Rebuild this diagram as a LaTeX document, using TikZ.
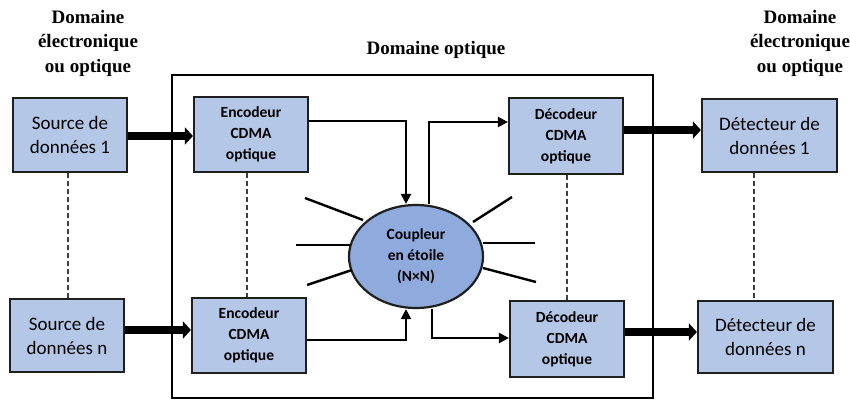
\documentclass[tikz,border=0pt]{standalone}
\usepackage{fontspec}
\setmainfont{Carlito}
\newfontfamily\titlefont{Liberation Serif}
\usetikzlibrary{arrows.meta,shapes.geometric,calc}
\definecolor{boxblue}{HTML}{B4C7E7}
\definecolor{ellblue}{HTML}{8FAADC}
\definecolor{edge}{HTML}{1F1F1F}
\begin{document}
\begin{tikzpicture}[x=1pt,y=-1pt,
  bigbox/.style={draw=edge,line width=2.2pt,fill=boxblue,rectangle,align=center,inner sep=0pt,
     font=\fontsize{19}{24}\selectfont},
  smallbox/.style={draw=edge,line width=2.2pt,fill=boxblue,rectangle,align=center,inner sep=0pt,
     minimum width=114pt,minimum height=75pt,font=\bfseries\fontsize{15.5}{21}\selectfont},
  titletext/.style={align=center,font=\titlefont\bfseries\fontsize{19}{24.5}\selectfont},
  thick arr/.style={line width=8pt,-{Triangle[length=8pt,width=17pt]}},
  thin arr/.style={line width=2.2pt,-{Triangle[length=10pt,width=10pt]}},
  spoke/.style={line width=2.4pt},
  dash link/.style={dash pattern=on 5pt off 3pt,line width=1.1pt,draw=black!75}]
\useasboundingbox (0,0) rectangle (850,403);
% titles
\node[titletext] (tl) at (88,43) {Domaine\\électronique\\ou optique};
\node[titletext] (tr) at (800,43) {Domaine\\électronique\\ou optique};
\node[titletext] (tm) at (436,50) {Domaine optique};
% optical domain frame
\draw[line width=1.6pt] (172,75) rectangle (653,398);
% boxes
\node[bigbox,minimum width=114pt,minimum height=74pt] (src1) at (70,135) {Source de\\données 1};
\node[bigbox,minimum width=114pt,minimum height=73pt] (srcn) at (67,335.5) {Source de\\données n};
\node[smallbox] (enc1) at (251,134.5) {Encodeur\\CDMA\\optique};
\node[smallbox] (encn) at (249,335.5) {Encodeur\\CDMA\\optique};
\node[smallbox,minimum height=76pt] (dec1) at (566,136) {Décodeur\\CDMA\\optique};
\node[smallbox,minimum height=76pt] (decn) at (567,339) {Décodeur\\CDMA\\optique};
\node[bigbox,minimum width=135pt,minimum height=73pt] (det1) at (769.5,135.5) {Détecteur de\\données 1};
\node[bigbox,minimum width=135pt,minimum height=72pt] (detn) at (765.5,337) {Détecteur de\\données n};
\node[ellipse,draw=edge,line width=2.2pt,fill=ellblue,minimum width=134pt,minimum height=103pt,
  inner sep=0pt,align=center,font=\bfseries\fontsize{15.5}{21}\selectfont] (cpl) at (416,256.5)
  {Coupleur\\en étoile\\(N×N)};
% dashed links
\draw[dash link] (src1.south -| 68,0) -- (srcn.north -| 68,0);
\draw[dash link] (enc1.south -| 247,0) -- (encn.north -| 247,0);
\draw[dash link] (dec1.south -| 567,0) -- (decn.north -| 567,0);
\draw[dash link] (det1.south -| 754,0) -- (detn.north -| 754,0);
% thick arrows
\draw[thick arr] (src1.east |- 0,136) -- (enc1.west |- 0,136);
\draw[thick arr] (srcn.east |- 0,330) -- (encn.west |- 0,330);
\draw[thick arr] (dec1.east |- 0,130) -- (det1.west |- 0,130);
\draw[thick arr] (decn.east |- 0,332) -- (detn.west |- 0,332);
% coupler connections
\coordinate (k1) at (406,121);
\coordinate (k2) at (406,340);
\coordinate (k3) at (429,122);
\coordinate (k4) at (432,338);
\draw[thin arr] (enc1.east |- k1) -| (k1 |- cpl.north);
\draw[thin arr] (encn.east |- k2) -| (k2 |- cpl.south);
\draw[thin arr] (k3 |- cpl.north) |- (dec1.west |- k3);
\draw[thin arr] (k4 |- cpl.south) |- (decn.west |- k4);
% spokes
\draw[spoke] (305,198) -- (363,220);
\draw[spoke] (296,245) -- (350,245);
\draw[spoke] (307,285) -- (352,270);
\draw[spoke] (512,197) -- (473,222);
\draw[spoke] (483,243) -- (535,243);
\draw[spoke] (483,268) -- (536,282);
\end{tikzpicture}
\end{document}
